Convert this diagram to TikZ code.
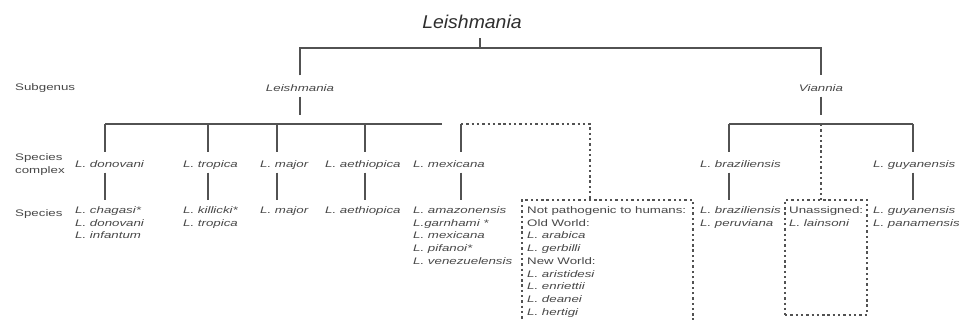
\documentclass[tikz,border=0pt]{standalone}
\usepackage{fontspec}
\setmainfont{Liberation Sans}[FakeStretch=1.4]
\newfontfamily\titlefont{Liberation Sans}[FakeStretch=1.05]
\definecolor{lgray}{RGB}{82,82,82}
\definecolor{tgray}{RGB}{72,72,72}

\begin{document}
\begin{tikzpicture}[x=1pt, y=-1pt,
    ln/.style={draw=lgray, line width=2.2pt},
    dot/.style={draw=lgray, line width=2pt, dash pattern=on 2.4pt off 2.9pt},
    txt/.style={font=\fontsize{9.5}{12.7}\selectfont, text=tgray, inner sep=0pt},
    sub/.style={txt, font=\fontsize{9.5}{12.7}\selectfont\itshape, anchor=base,
                text height=16pt, text depth=5pt},
    cpx/.style={txt, font=\fontsize{9.5}{12.7}\selectfont\itshape, anchor=base west,
                text height=15pt, text depth=5pt},
    spc/.style={txt, font=\fontsize{9.5}{12.7}\selectfont\itshape, anchor=north west,
                align=left, inner ysep=6.5pt},
    dbox/.style={dot, anchor=north west, outer sep=0pt, inner sep=0pt},
    rowlbl/.style={txt, anchor=west, align=left},
  ]
    \fill[white] (0,0) rectangle (959,320);
    \useasboundingbox (0,0) rectangle (959,320);
    \clip (0,0) rectangle (959,320);

    % genus and subgenera
    \node[font=\titlefont\fontsize{18.5}{20}\selectfont\itshape, text=black!82,
          inner sep=0pt, anchor=base, text depth=9.5pt] (root) at (472,28.5) {Leishmania};
    \node[sub] (sgL) at (300,91.5) {Leishmania};
    \node[sub] (sgV) at (821,91.5) {Viannia};

    % row labels
    \node[rowlbl] (lSub) at (15,88)    {Subgenus};
    \node[rowlbl] (lCpx) at (15,164.5) {Species\\complex};
    \node[rowlbl] (lSpc) at (15,214)   {Species};

    % species complexes
    \node[cpx] (cDon) at (75,167.5)  {L. donovani};
    \node[cpx] (cTro) at (183,167.5) {L. tropica};
    \node[cpx] (cMaj) at (260,167.5) {L. major};
    \node[cpx] (cAet) at (325,167.5) {L. aethiopica};
    \node[cpx] (cMex) at (413,167.5) {L. mexicana};
    \node[cpx] (cBra) at (700,167.5) {L. braziliensis};
    \node[cpx] (cGuy) at (873,167.5) {L. guyanensis};

    % species
    \node[spc] (sDon) at (75,200)  {L. chagasi*\\L. donovani\\L. infantum};
    \node[spc] (sTro) at (183,200) {L. killicki*\\L. tropica};
    \node[spc] (sMaj) at (260,200) {L. major};
    \node[spc] (sAet) at (325,200) {L. aethiopica};
    \node[spc] (sMex) at (413,200) {L. amazonensis\\L.garnhami *\\L. mexicana\\L. pifanoi*\\L. venezuelensis};
    \node[spc] (sBra) at (700,200) {L. braziliensis\\L. peruviana};
    \node[spc] (sGuy) at (873,200) {L. guyanensis\\L. panamensis};

    % dotted boxes
    \node[dbox, minimum width=171pt, minimum height=130pt] (npBox) at (522,200) {};
    \node[spc, inner xsep=5pt] (npTxt) at (npBox.north west)
      {\textup{Not pathogenic to humans:}\\\textup{Old World:}\\L. arabica\\L. gerbilli\\
       \textup{New World:}\\L. aristidesi\\L. enriettii\\L. deanei\\L. hertigi};
    \node[dbox, minimum width=82pt, minimum height=115pt] (unBox) at (785,200) {};
    \node[spc, inner xsep=4pt] (unTxt) at (unBox.north west)
      {\textup{Unassigned:}\\L. lainsoni};

    % junction points
    \coordinate (j0) at (480,48);
    \coordinate (kL) at (300,115);
    \coordinate (kV) at (821,115);
    \coordinate (bEnd) at (442,124);
    \coordinate (xNp) at (590,124);
    \coordinate (xUn) at (821,124);
    \foreach \n/\x in {Don/105,Tro/208,Maj/277,Aet/365,Mex/461,Bra/729,Guy/913}
      \coordinate (x\n) at (\x,124);

    % connectors
    \draw[ln] (j0 |- root.south) -- (j0);
    \draw[ln] (sgL.north) |- (j0) -| (sgV.north);
    \draw[ln] (sgL.south) -- (kL);
    \draw[ln] (sgV.south) -- (kV);
    \draw[ln] (xDon) -- (bEnd);
    \draw[ln] (xBra) -- (xGuy);
    \foreach \n in {Don,Tro,Maj,Aet,Mex,Bra,Guy} {
      \draw[ln] (x\n) -- (x\n |- c\n.north);
      \draw[ln] (x\n |- c\n.south) -- (x\n |- s\n.north);
    }
    \draw[dot] (xMex) -| (npBox.north -| xNp);
    \draw[dot] (xUn) -- (xUn |- unBox.north);
  \end{tikzpicture}
\end{document}
